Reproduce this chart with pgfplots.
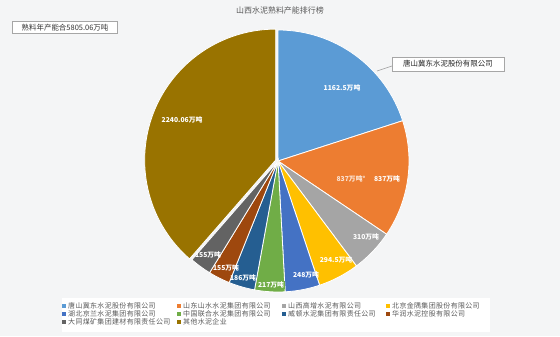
\documentclass[border=0pt]{standalone}
\usepackage{pgfplots}
\pgfplotsset{compat=1.18}
\usepackage{pgfplotstable}
\usepackage{fontspec}
\setmainfont{Noto Sans CJK SC}
\newfontfamily\lgfont[LetterSpace=5]{Noto Sans CJK SC}
\definecolor{bgc}{HTML}{F4F5F6}
\definecolor{c1}{HTML}{5B9BD5}
\definecolor{c2}{HTML}{ED7D31}
\definecolor{c3}{HTML}{A5A5A5}
\definecolor{c4}{HTML}{FFC000}
\definecolor{c5}{HTML}{4472C4}
\definecolor{c6}{HTML}{70AD47}
\definecolor{c7}{HTML}{255E91}
\definecolor{c8}{HTML}{9E480E}
\definecolor{c9}{HTML}{636363}
\definecolor{c10}{HTML}{997300}
\definecolor{txt}{HTML}{595959}

\pgfplotstableread{
val col ex
1162.5 c1 0
837 c2 0
310 c3 0
294.5 c4 0
248 c5 0
217 c6 0
186 c7 0
155 c8 0
155 c9 0
2240.06 c10 2.5
}\piedata

\begin{document}
\begin{tikzpicture}
\begin{axis}[width=560bp,height=336bp,scale only axis,
  xmin=0,xmax=560,ymin=0,ymax=336,hide axis,clip=false]
\fill[bgc] (axis cs:0,0) rectangle (axis cs:560,336);
\fill[white] (axis cs:62,4) rectangle (axis cs:490,38);
\def\startang{90}
\pgfplotsforeachungrouped \i in {0,...,9}{%
  \pgfplotstablegetelem{\i}{val}\of\piedata \let\v\pgfplotsretval
  \pgfplotstablegetelem{\i}{col}\of\piedata \let\c\pgfplotsretval
  \pgfplotstablegetelem{\i}{ex}\of\piedata \let\ex\pgfplotsretval
  \pgfmathsetmacro\endang{\startang-\v/5805.06*360}%
  \pgfmathsetmacro\midang{(\startang+\endang)/2}%
  \edef\temp{\noexpand\fill[\c,draw=white,line width=0.8bp,shift={(\midang:\ex bp)}] (axis cs:278,175) -- ++(\startang:131bp) arc[start angle=\startang,end angle=\endang,radius=131bp] -- cycle;}%
  \temp
  \let\startang\endang
}
% title
\node[text=txt,font=\fontsize{8}{9}\selectfont] at (axis cs:280,326) {山西水泥熟料产能排行榜};
% total box
\node[draw=gray!70,fill=white,text=black!80,font=\fontsize{7.5}{8}\selectfont,minimum width=105bp,minimum height=12bp,inner sep=0pt] at (axis cs:65,308.5) {熟料年产能合5805.06万吨};
% leader box
\draw[gray!80,line width=0.6bp] (axis cs:377,265) -- (axis cs:392,270);
\node[draw=gray!70,fill=white,text=black!85,font=\fontsize{7.5}{8}\selectfont,minimum width=112bp,minimum height=14bp,inner sep=0pt] at (axis cs:448,272) {唐山冀东水泥股份有限公司};
% slice labels
\tikzset{lab/.style={text=white,font=\fontsize{6.8}{7}\selectfont\bfseries,inner sep=0.8bp}}
\node[lab] at (axis cs:342,248) {1162.5万吨};
\node[lab] at (axis cs:182,216) {2240.06万吨};
\node[lab,text opacity=0.8] at (axis cs:351,157) {837万吨°};
\node[lab] at (axis cs:387,157) {837万吨};
\node[lab] at (axis cs:366,99) {310万吨};
\node[lab] at (axis cs:336,76) {294.5万吨};
\node[lab] at (axis cs:306,61) {248万吨};
\node[lab,fill=c6] at (axis cs:271,51) {217万吨};
\node[lab] at (axis cs:243,58) {186万吨};
\node[lab] at (axis cs:226,68) {155万吨};
\node[lab] at (axis cs:208,81) {155万吨};
% legend
\tikzset{lg/.style={text=txt,font=\lgfont\fontsize{7}{8}\selectfont,anchor=west,inner sep=0pt},
  mk/.style={minimum size=3.6bp,inner sep=0pt}}
\newcommand\lgitem[4]{\node[mk,fill=#3] at (axis cs:#1,#2) {}; \node[lg] at (axis cs:#1+4,#2) {#4};}
\lgitem{64}{30}{c1}{唐山冀东水泥股份有限公司}
\lgitem{179}{30}{c2}{山东山水水泥集团有限公司}
\lgitem{284}{30}{c3}{山西高增水泥有限公司}
\lgitem{388}{30}{c4}{北京金隅集团股份有限公司}
\lgitem{64}{22}{c5}{湖北京兰水泥集团有限公司}
\lgitem{179}{22}{c6}{中国联合水泥集团有限公司}
\lgitem{284}{22}{c7}{威顿水泥集团有限责任公司}
\lgitem{388}{22}{c8}{华润水泥控股有限公司}
\lgitem{64}{14}{c9}{大同煤矿集团建材有限责任公司}
\lgitem{179}{14}{c10}{其他水泥企业}
\end{axis}
\end{tikzpicture}
\end{document}
